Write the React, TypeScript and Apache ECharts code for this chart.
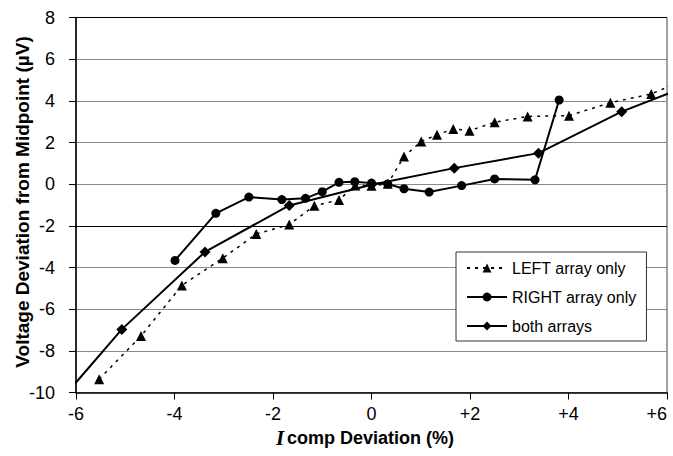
import React, { useEffect, useRef } from "react";
import * as echarts from "echarts";

// LEFT array only (triangles, dotted)
const leftX = [-5.53, -4.68, -3.85, -3.02, -2.34, -1.67, -1.16, -0.66, -0.33, 0.0, 0.33, 0.66, 1.01, 1.33, 1.66, 1.99, 2.5, 3.17, 4.01, 4.85, 5.68, 6.52];
const leftY = [-9.36, -7.29, -4.86, -3.55, -2.39, -1.94, -1.03, -0.76, -0.06, -0.08, 0.02, 1.33, 2.05, 2.37, 2.65, 2.57, 2.97, 3.25, 3.29, 3.91, 4.33, 5.17];

// RIGHT array only (circles, solid)
const rightX = [-3.99, -3.16, -2.49, -1.82, -1.34, -1.0, -0.66, -0.34, 0.0, 0.33, 0.66, 1.17, 1.83, 2.5, 3.32, 3.81];
const rightY = [-3.66, -1.4, -0.62, -0.74, -0.68, -0.36, 0.09, 0.12, 0.05, 0.01, -0.22, -0.38, -0.07, 0.25, 0.21, 4.04];

// both arrays (diamonds, solid)
const bothX = [-6.76, -5.07, -3.38, -1.67, 0.0, 1.68, 3.39, 5.08, 6.77];
const bothY = [-11.6, -6.97, -3.25, -1.02, -0.03, 0.77, 1.49, 3.48, 5.04];

const seriesNames = ["LEFT array only", "RIGHT array only", "both arrays"];
const xTicks = [-6, -4, -2, 0, 2, 4, 6];
const yTicks = [-10, -8, -6, -4, -2, 0, 2, 4, 6, 8];

const FONT = 'Arial, "Liberation Sans", sans-serif';

function pairs(xs: number[], ys: number[]) {
  return xs.map((x, i) => [x, ys[i]]);
}

export default function App() {
  const ref = useRef<HTMLDivElement>(null);

  useEffect(() => {
    document.body.style.margin = "0";
    if (!ref.current) return;
    const chart = echarts.init(ref.current, null, { renderer: "svg" });

    const gridColors = yTicks.map((v) => (v === -2 || v === 8 ? "#000" : "#8a8a8a"));

    chart.setOption({
      animation: false,
      backgroundColor: "#fff",
      textStyle: { fontFamily: FONT },
      grid: {
        left: 76,
        right: 6,
        top: 17.5,
        bottom: 63.5,
        show: true,
        borderColor: "#444",
        borderWidth: 1,
        backgroundColor: "transparent",
      },
      xAxis: {
        type: "value",
        min: xTicks[0],
        max: xTicks[xTicks.length - 1],
        interval: 2,
        axisLine: { show: true, onZero: false, lineStyle: { color: "#000", width: 1.5 } },
        axisTick: { show: true, inside: false, length: 7, lineStyle: { color: "#000", width: 1 } },
        splitLine: { show: false },
        axisLabel: {
          color: "#000",
          fontSize: 18,
          fontFamily: FONT,
          margin: 12,
          formatter: (v: number) => (v > 0 ? "+" + v : String(v)),
          alignMaxLabel: "right",
        },
      },
      yAxis: {
        type: "value",
        min: yTicks[0],
        max: yTicks[yTicks.length - 1],
        interval: 2,
        axisLine: { show: true, onZero: false, lineStyle: { color: "#000", width: 1.5 } },
        axisTick: { show: true, inside: false, length: 7, lineStyle: { color: "#000", width: 1 } },
        splitLine: { show: true, lineStyle: { color: gridColors, width: 1 } },
        axisLabel: { color: "#000", fontSize: 18, fontFamily: FONT, margin: 21 },
      },
      legend: {
        orient: "vertical",
        left: 456,
        top: 252,
        padding: [7, 10, 6, 10],
        itemGap: 11,
        itemWidth: 40,
        itemHeight: 11,
        backgroundColor: "#fff",
        borderColor: "#333",
        borderWidth: 1,
        borderRadius: 0,
        textStyle: { fontSize: 16, fontFamily: FONT, color: "#000", lineHeight: 18 },
        data: seriesNames,
      },
      series: [
        {
          name: seriesNames[0],
          type: "line",
          data: pairs(leftX, leftY),
          symbol: "triangle",
          symbolSize: 10,
          clip: true,
          itemStyle: { color: "#000" },
          lineStyle: { color: "#000", width: 1.5, type: [3, 5] },
          z: 3,
        },
        {
          name: seriesNames[1],
          type: "line",
          data: pairs(rightX, rightY),
          symbol: "circle",
          symbolSize: 9,
          clip: true,
          itemStyle: { color: "#000" },
          lineStyle: { color: "#000", width: 2 },
          z: 4,
        },
        {
          name: seriesNames[2],
          type: "line",
          data: pairs(bothX, bothY),
          symbol: "diamond",
          symbolSize: 11,
          clip: true,
          itemStyle: { color: "#000" },
          lineStyle: { color: "#000", width: 2 },
          z: 4,
        },
      ],
      graphic: [
        {
          type: "text",
          x: 22,
          y: 202,
          rotation: Math.PI / 2,
          style: {
            text: "Voltage Deviation from Midpoint (µV)",
            font: `bold 19px ${FONT}`,
            fill: "#000",
            align: "center",
            verticalAlign: "middle",
            textAlign: "center",
            textVerticalAlign: "middle",
          },
        },
        {
          type: "text",
          x: 365,
          y: 438,
          style: {
            text: "{i|I}{b|comp Deviation (%)}",
            align: "center",
            verticalAlign: "middle",
            textAlign: "center",
            textVerticalAlign: "middle",
            fill: "#000",
            rich: {
              i: {
                fontFamily: '"Times New Roman", "Liberation Serif", serif',
                fontStyle: "italic",
                fontWeight: "bold",
                fontSize: 21,
                fill: "#000",
                padding: [0, 3, 0, 0],
              },
              b: {
                fontFamily: FONT,
                fontWeight: "bold",
                fontSize: 18,
                fill: "#000",
              },
            },
          },
        },
      ],
    });

    return () => chart.dispose();
  }, []);

  return <div ref={ref} style={{ width: 673, height: 456 }} />;
}
